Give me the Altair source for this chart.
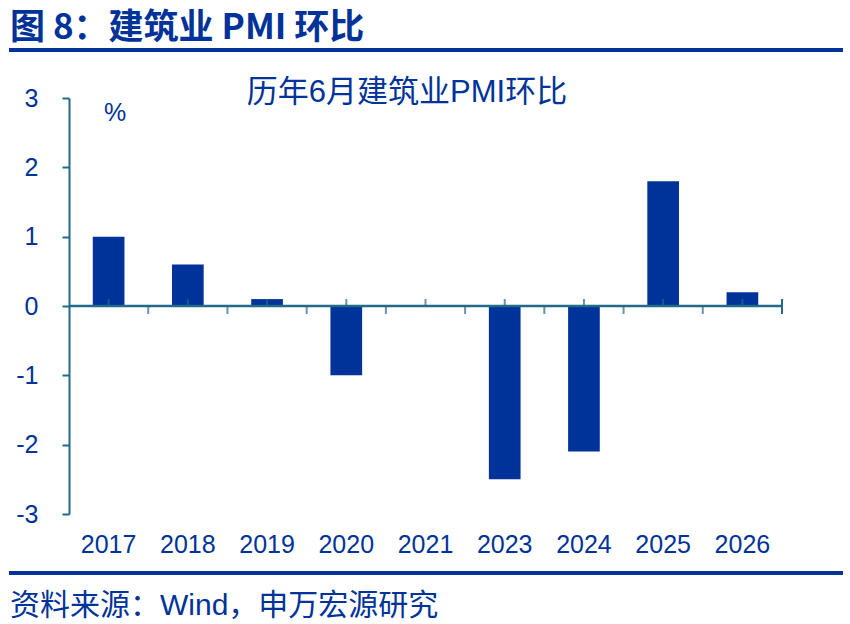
import altair as alt
import pandas as pd

years = ["2017", "2018", "2019", "2020", "2021", "2023", "2024", "2025", "2026"]
values = [1.0, 0.6, 0.1, -1.0, 0.0, -2.5, -2.1, 1.8, 0.2]

main_title = "图 8：建筑业 PMI 环比"
inner_title = "历年6月建筑业PMI环比"
unit_label = "%"
source_text = "资料来源：Wind，申万宏源研究"

NAVY = "#003399"
AXIS = "#236a89"
FONT = "Liberation Sans, Arial, Noto Sans CJK SC"
CJK = "Noto Sans CJK SC"

W, H = 713, 416
OX, OY = 69, 98  # plot origin in page

df = pd.DataFrame({"year": years, "value": values})
one = pd.DataFrame({"k": [0]})

xscale = alt.Scale(domain=years, paddingInner=0, paddingOuter=0)
yscale = alt.Scale(domain=[-3, 3], nice=False, zero=False)

x_enc = alt.X("year:N", scale=xscale, sort=years,
              axis=alt.Axis(title=None, domain=False, ticks=False, labelAngle=0,
                            labelFont=FONT, labelFontSize=25, labelColor=NAVY,
                            labelPadding=18, labelBaseline="top"))
y_enc = alt.Y("value:Q", scale=yscale,
              axis=alt.Axis(title=None, values=[-3, -2, -1, 0, 1, 2, 3],
                            labelExpr="toString(datum.value)",
                            domainColor=AXIS, domainWidth=2, tickColor=AXIS,
                            tickWidth=2, tickSize=7, labelPadding=24,
                            labelFont=FONT, labelFontSize=25, labelColor=NAVY,
                            grid=False, labelBaseline="middle"))

base = alt.Chart(df)
ann = alt.Chart(one)

bars = base.mark_bar(color=NAVY, width={"band": 0.4}).encode(x=x_enc, y=y_enc)

zero_line = ann.mark_rule(color=AXIS, strokeWidth=2.5).encode(
    y=alt.datum(0), x=alt.value(0), x2=alt.value(W))

center_ticks = base.mark_tick(color=AXIS, thickness=2, size=7, yOffset=-3.5,
                              orient="vertical").encode(
    x=alt.X("year:N", scale=xscale, sort=years), y=alt.datum(0))

boundary_ticks = base.mark_tick(color=AXIS, thickness=2, size=8, yOffset=4,
                                xOffset=W / len(years) / 2,
                                orient="vertical").encode(
    x=alt.X("year:N", scale=xscale, sort=years), y=alt.datum(0))

end_tick = ann.mark_rule(color=AXIS, strokeWidth=2).encode(
    x=alt.value(W), y=alt.value(208 - 7), y2=alt.value(208 + 8))

title_txt = ann.mark_text(text=main_title, font=CJK, fontSize=35, fontWeight="bold",
                          color=NAVY, align="left", baseline="middle").encode(
    x=alt.value(10 - OX), y=alt.value(28 - OY))

top_rule = ann.mark_rule(color=NAVY, strokeWidth=4).encode(
    x=alt.value(9 - OX), x2=alt.value(843 - OX), y=alt.value(50 - OY))

bottom_rule = ann.mark_rule(color=NAVY, strokeWidth=4).encode(
    x=alt.value(9 - OX), x2=alt.value(843 - OX), y=alt.value(573 - OY))

inner_txt = ann.mark_text(text=inner_title, font=FONT, fontSize=31,
                          color=NAVY, align="center", baseline="middle").encode(
    x=alt.value(407 - OX), y=alt.value(93 - OY))

unit_txt = ann.mark_text(text=unit_label, font=FONT, fontSize=25,
                         color=NAVY, align="center", baseline="middle").encode(
    x=alt.value(115 - OX), y=alt.value(113 - OY))

source_txt = ann.mark_text(text=source_text, font=FONT, fontSize=30,
                           color=NAVY, align="left", baseline="middle").encode(
    x=alt.value(10 - OX), y=alt.value(606 - OY))

chart = alt.layer(
    bars, zero_line, center_ticks, boundary_ticks, end_tick,
    title_txt, top_rule, bottom_rule, inner_txt, unit_txt, source_txt
).properties(
    width=W, height=H,
    padding={"left": OX, "top": OY, "right": 850 - OX - W, "bottom": 624 - OY - H},
    autosize=alt.AutoSizeParams(type="none"),
    background="white",
).configure_view(stroke=None)

chart.save("out.html", embed_options={"renderer": "svg", "actions": False})
